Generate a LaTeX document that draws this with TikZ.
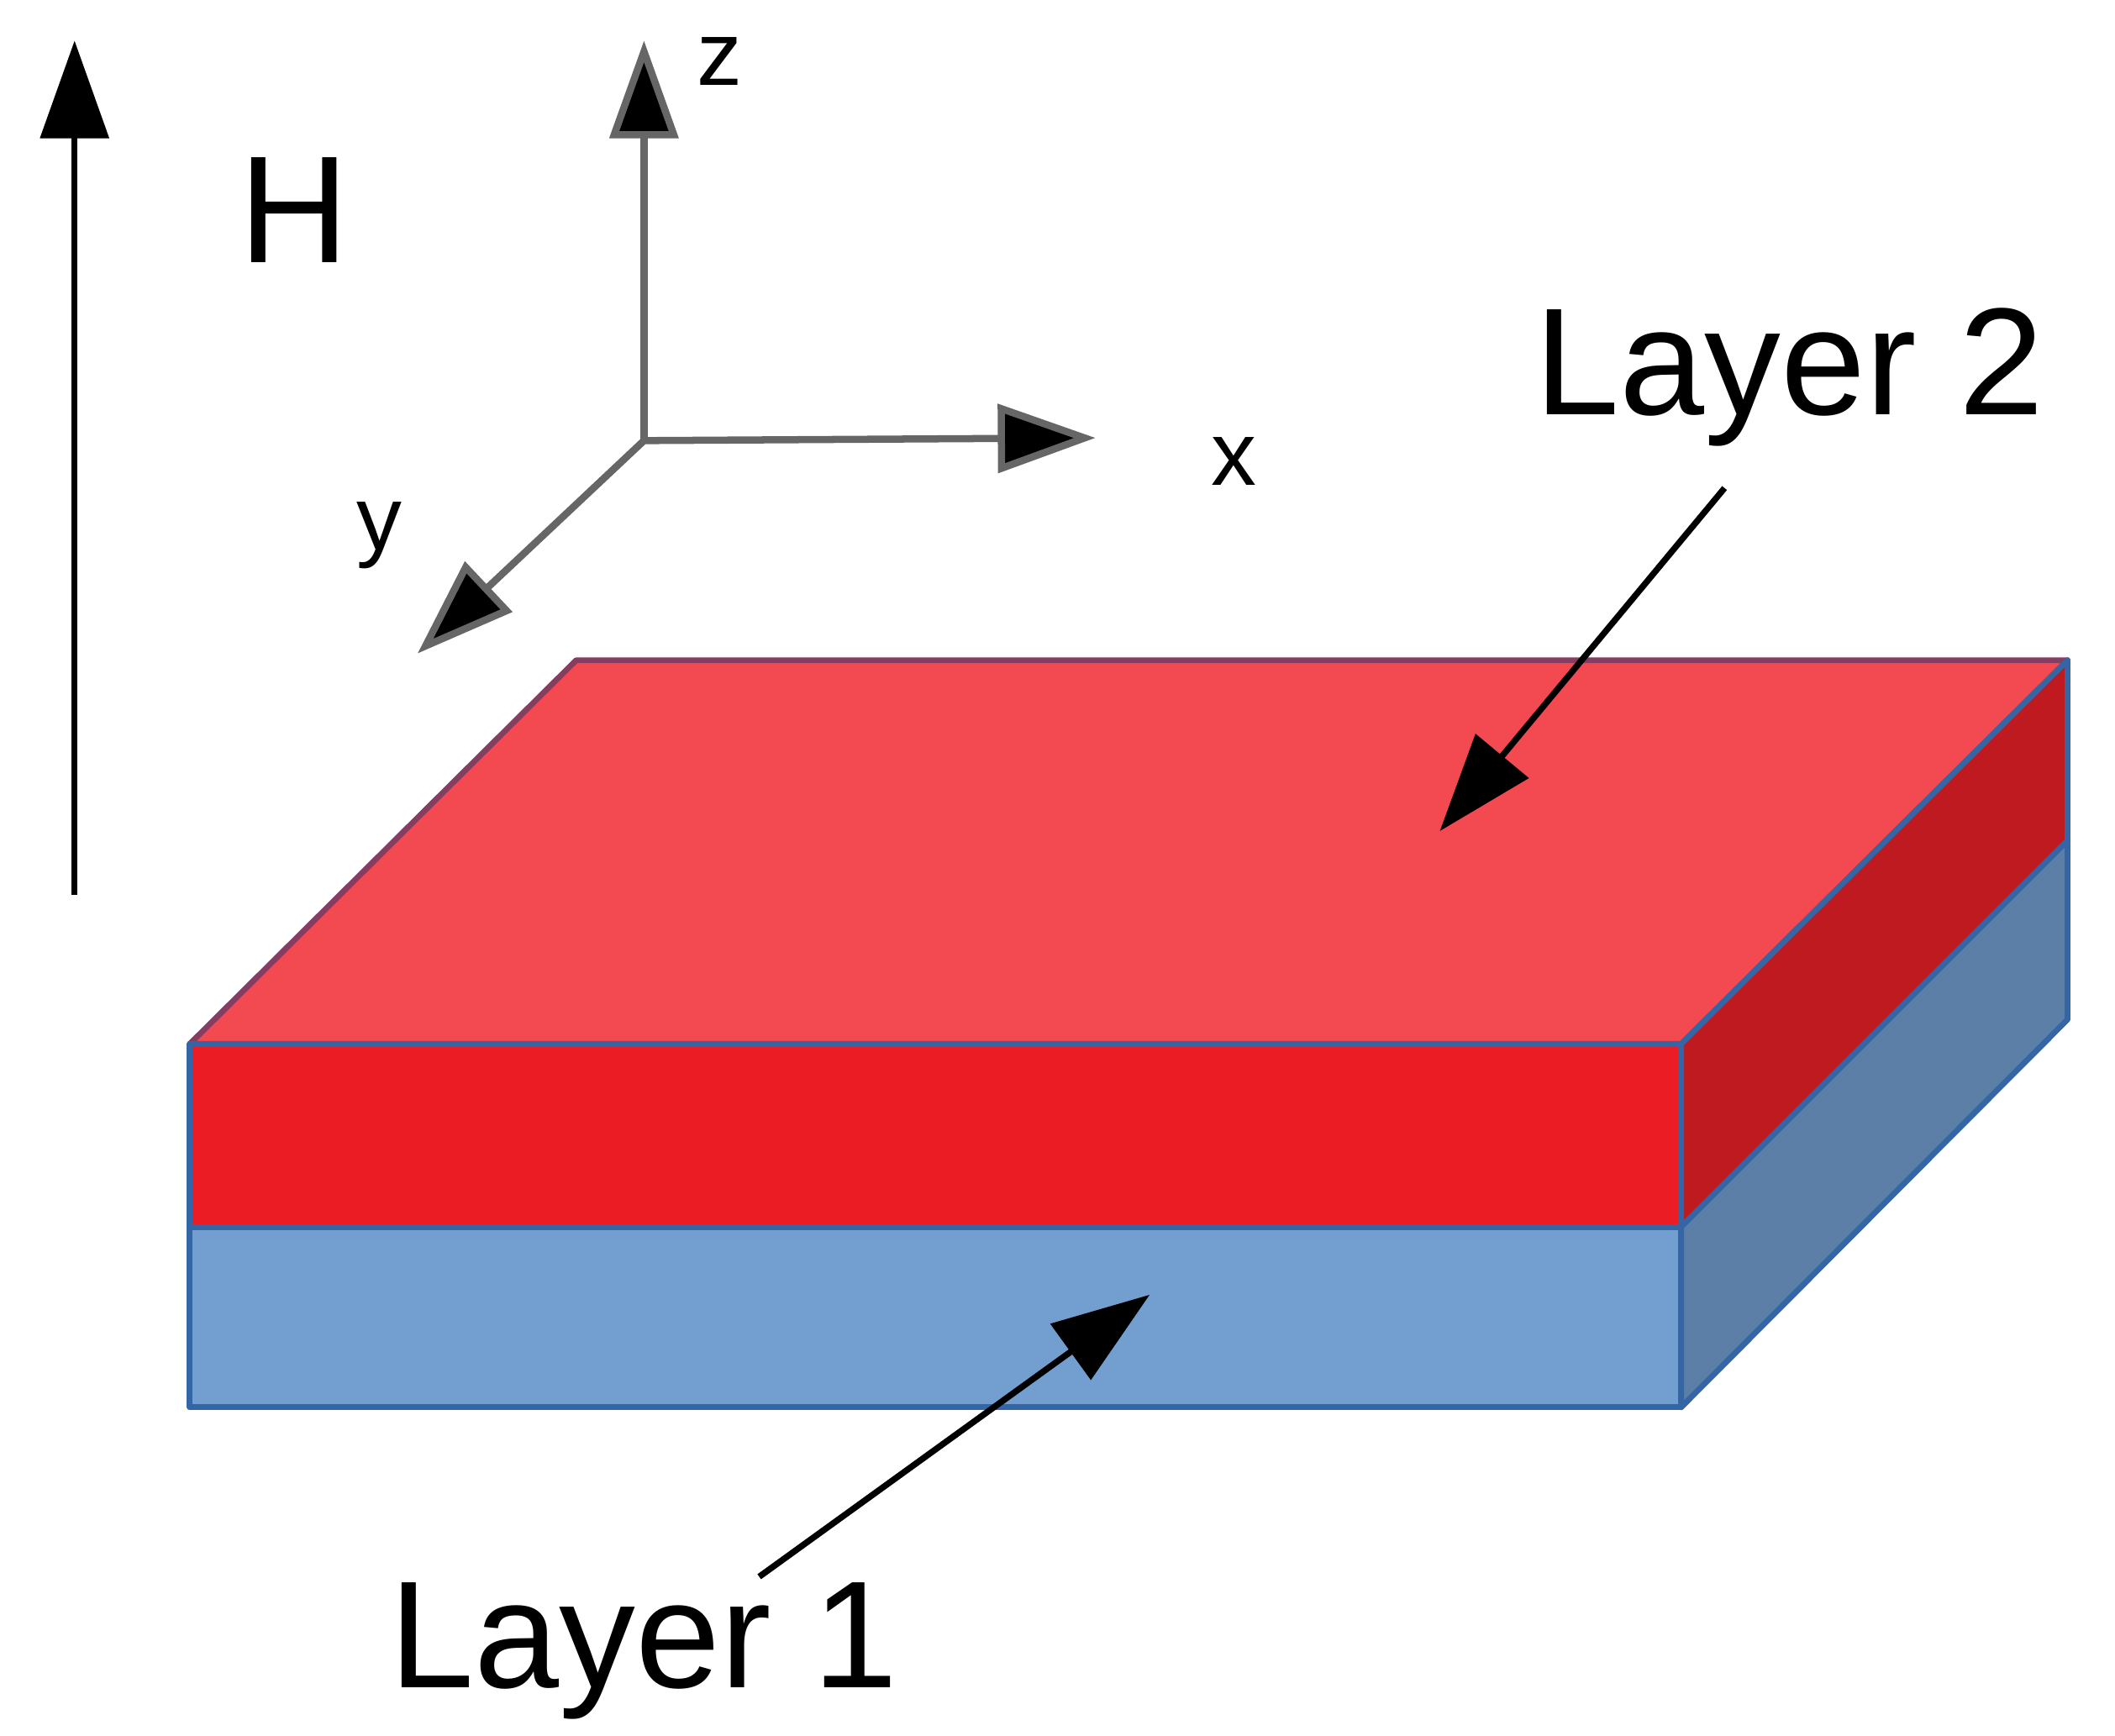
\documentclass[tikz,border=0pt]{standalone}
\usepackage{fontspec}
\setmainfont{Liberation Sans}
\usetikzlibrary{arrows.meta}
\definecolor{topred}{HTML}{F24A50}
\definecolor{frontred}{HTML}{EC1C24}
\definecolor{sidered}{HTML}{BE1A20}
\definecolor{frontblue}{HTML}{729FCF}
\definecolor{sideblue}{HTML}{5B7FA6}
\definecolor{edgeblue}{HTML}{3465A4}
\begin{document}
\begin{tikzpicture}[x=0.01cm,y=-0.01cm,
  bigarrow/.style={line width=1.3pt,-{Triangle[length=0.72cm,width=0.5cm]}},
  axis/.style={line width=1.5pt,draw=black!60,-{Triangle[length=0.72cm,width=0.5cm,fill=black]}},
  face/.style={draw=edgeblue,line width=1.2pt,line join=round},
  lbl/.style={font=\fontsize{19}{22}\selectfont},
  biglbl/.style={font=\fontsize{32}{36}\selectfont}]
\useasboundingbox (0,0) rectangle (1560,1280);
% block
\coordinate (a) at (140,770); \coordinate (b) at (1240,770);
\coordinate (c) at (1525,487); \coordinate (d) at (425,487);
\coordinate (e) at (140,905); \coordinate (f) at (1240,905); \coordinate (g) at (1525,620);
\coordinate (h) at (140,1038); \coordinate (i) at (1240,1038); \coordinate (j) at (1525,752);
\fill[topred] (a)--(d)--(c)--(b)--cycle;
\draw[face,draw=edgeblue!60!red] (a)--(d)--(c)--(b)--cycle;
\filldraw[face,fill=frontred] (a) rectangle (f);
\filldraw[face,fill=sidered] (b)--(c)--(g)--(f)--cycle;
\filldraw[face,fill=frontblue] (e) rectangle (i);
\filldraw[face,fill=sideblue] (f)--(g)--(j)--(i)--cycle;
% H arrow
\coordinate (h0) at (55,660); \coordinate (h1) at (55,30);
\draw[bigarrow] (h0)--(h1);
\node[biglbl] (H) at (217,155) {H};
% axes
\coordinate (o) at (475,325);
\coordinate (zt) at (475,30); \coordinate (xt) at (808,323); \coordinate (yt) at (308,482);
\draw[axis] (o)--(zt);
\draw[axis] (o)--(xt);
\draw[axis] (o)--(yt);
\node[lbl] (zl) at (531,45) {z};
\node[lbl] (xl) at (910,340) {x};
\node[lbl] (yl) at (280,395) {y};
% labels
\node[biglbl] (L2) at (1320,278) {Layer 2};
\node[biglbl] (L1) at (475,1218) {Layer 1};
\coordinate (p2) at (1272,360); \coordinate (q2) at (1062,613);
\coordinate (p1) at (560,1163); \coordinate (q1) at (848,955);
\draw[bigarrow] (p2)--(q2);
\draw[bigarrow] (p1)--(q1);
\end{tikzpicture}
\end{document}
